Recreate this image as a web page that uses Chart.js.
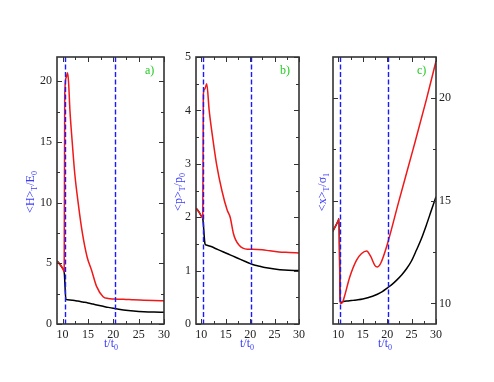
<!DOCTYPE html>
<html>
<head>
<meta charset="utf-8">
<script src="https://cdn.jsdelivr.net/npm/chart.js@4.4.1/dist/chart.umd.min.js"></script>
<style>
  html, body { margin: 0; padding: 0; background: #ffffff; }
  #wrap { position: relative; width: 494px; height: 382px; overflow: hidden; background: #fff; }
  #wrap canvas { position: absolute; left: 0; top: 0; }
  .lbl { position: absolute; font-family: "Liberation Serif", "Times New Roman", serif; font-size: 12px; color: #3b3bff; white-space: nowrap; line-height: 1; }
  .rot { transform: translate(-50%, -50%) rotate(-90deg); }
  .hz { transform: translate(-50%, -50%); }
  .pan { position: absolute; font-family: "Liberation Serif", serif; font-size: 12px; color: #22cc22; line-height: 1; }
  sub { font-size: 8px; vertical-align: -3px; }
</style>
</head>
<body>
<div id="wrap">
  <canvas id="ca" width="494" height="382"></canvas>
  <canvas id="cb" width="494" height="382"></canvas>
  <canvas id="cc" width="494" height="382"></canvas>
  <div class="lbl rot" style="left:31px; top:192px;">&lt;H&gt;<sub>T</sub>/E<sub>0</sub></div>
  <div class="lbl rot" style="left:179px; top:192px;">&lt;p&gt;<sub>T</sub>/p<sub>0</sub></div>
  <div class="lbl rot" style="left:323px; top:192px;">&lt;x&gt;<sub>T</sub>/σ<sub>1</sub></div>
  <div class="lbl hz" style="left:111px; top:344px;">t/t<sub>0</sub></div>
  <div class="lbl hz" style="left:247px; top:344px;">t/t<sub>0</sub></div>
  <div class="lbl hz" style="left:385px; top:344px;">t/t<sub>0</sub></div>
  <div class="pan" style="left:145px; top:64px;">a)</div>
  <div class="pan" style="left:280px; top:64px;">b)</div>
  <div class="pan" style="left:417px; top:64px;">c)</div>
</div>
<script>
// ---- data ----
const markerTimes = [10.4, 20.25];

// panel a: <H>_T / E_0
const tRedA   = [8.9, 9.5, 10.0, 10.32, 10.42, 10.7, 11.0, 11.2, 11.45, 11.9, 12.4, 13.1, 13.9, 14.85, 15.7, 16.7, 18.0, 19.0, 20.0, 22.0, 24.0, 26.0, 28.0, 30.0];
const redA    = [5.2, 4.9, 4.6, 4.3, 18.8, 20.3, 20.7, 19.8, 17.6, 15.0, 12.4, 9.9, 7.5, 5.5, 4.45, 3.1, 2.25, 2.1, 2.06, 2.04, 1.99, 1.95, 1.93, 1.92];
const tBlackA = [8.9, 9.5, 10.0, 10.32, 10.65, 11, 12, 13, 14, 15, 16, 17, 18, 19, 20, 22, 24, 26, 28, 30];
const blackA  = [5.2, 4.9, 4.6, 4.3, 2.03, 2.0, 1.96, 1.89, 1.81, 1.73, 1.64, 1.55, 1.46, 1.37, 1.29, 1.16, 1.07, 1.01, 0.98, 0.97];

// panel b: <p>_T / p_0
const tRedB   = [8.9, 9.5, 10.0, 10.28, 10.4, 10.7, 11.1, 11.6, 12.3, 13.1, 14.2, 15.3, 15.9, 16.55, 17.0, 17.7, 18.5, 19.4, 20.5, 22.5, 24.0, 25.9, 28.0, 30.0];
const redB    = [2.17, 2.1, 2.02, 1.98, 4.3, 4.4, 4.5, 4.0, 3.5, 3.0, 2.5, 2.13, 2.0, 1.7, 1.58, 1.48, 1.42, 1.4, 1.4, 1.39, 1.37, 1.35, 1.34, 1.33];
const tBlackB = [8.9, 9.5, 10.0, 10.28, 10.75, 11, 12, 13, 14, 15, 16, 17, 18, 19, 20, 21, 22, 23, 25, 27, 30];
const blackB  = [2.17, 2.1, 2.02, 1.98, 1.5, 1.48, 1.45, 1.41, 1.37, 1.33, 1.29, 1.25, 1.21, 1.17, 1.13, 1.1, 1.08, 1.06, 1.03, 1.01, 1.0];

// panel c: <x>_T / sigma_1
const tRedC   = [8.8, 9.5, 10.0, 10.12, 10.38, 10.55, 10.85, 11.2, 12.35, 13.7, 14.75, 15.8, 16.6, 17.5, 18.0, 18.7, 20.0, 22.3, 25.3, 28.0, 30.0];
const redC    = [13.5, 13.8, 14.05, 14.12, 10.06, 10.0, 10.05, 10.3, 11.3, 12.1, 12.43, 12.56, 12.3, 11.84, 11.78, 11.97, 12.86, 14.9, 17.5, 19.9, 21.8];
const tBlackC = [8.8, 9.5, 10.0, 10.12, 10.4, 10.6, 11, 12, 13, 14, 15, 16, 17, 18, 19, 20, 21, 22, 23, 24, 25, 26, 27, 28, 29, 30];
const blackC  = [13.5, 13.8, 14.05, 14.12, 10.1, 10.05, 10.1, 10.12, 10.15, 10.18, 10.22, 10.28, 10.35, 10.45, 10.58, 10.75, 10.93, 11.15, 11.4, 11.7, 12.08, 12.6, 13.15, 13.8, 14.5, 15.2];

// tick settings
const xTickStep = 2.5, xMajorStep = 5;

// ---- helpers ----
const pts = (ts, vs) => ts.map((t, i) => ({ x: t, y: vs[i] }));
const isMult = (v, s) => Math.abs(v / s - Math.round(v / s)) < 1e-6;

const framePlugin = {
  id: 'frameTicks',
  afterDatasetsDraw(chart, args, o) {
    const ctx = chart.ctx, a = chart.chartArea;
    const xs = chart.scales.x, ys = chart.scales.y;
    ctx.save();
    // dashed event markers
    ctx.strokeStyle = '#1a1aff';
    ctx.lineWidth = 1.4;
    ctx.setLineDash([5, 2.5]);
    markerTimes.forEach(t => {
      const px = Math.round(xs.getPixelForValue(t)) + 0.5;
      ctx.beginPath(); ctx.moveTo(px, a.top); ctx.lineTo(px, a.bottom); ctx.stroke();
    });
    ctx.setLineDash([]);
    // inward ticks
    ctx.strokeStyle = '#333';
    ctx.lineWidth = 1;
    xs.ticks.forEach(tk => {
      const px = Math.round(xs.getPixelForValue(tk.value)) + 0.5;
      const L = isMult(tk.value, xMajorStep) ? 5 : 3;
      ctx.beginPath();
      ctx.moveTo(px, a.bottom); ctx.lineTo(px, a.bottom - L);
      ctx.moveTo(px, a.top); ctx.lineTo(px, a.top + L);
      ctx.stroke();
    });
    ys.ticks.forEach(tk => {
      const py = Math.round(ys.getPixelForValue(tk.value)) + 0.5;
      const L = isMult(tk.value, o.yMajor) ? 5 : 3;
      ctx.beginPath();
      ctx.moveTo(a.left, py); ctx.lineTo(a.left + L, py);
      ctx.moveTo(a.right, py); ctx.lineTo(a.right - L, py);
      ctx.stroke();
    });
    // frame
    ctx.strokeStyle = '#333';
    ctx.lineWidth = 1.6;
    ctx.strokeRect(a.left, a.top, a.right - a.left, a.bottom - a.top);
    ctx.restore();
  }
};

function makeChart(id, area, red, black, yMin, yMax, yStep, yMajor, yPos) {
  const W = 494, H = 382, AW = 30, AH = 20;
  const pad = {
    left: yPos === 'left' ? area.left - AW : area.left,
    right: yPos === 'right' ? W - area.right - AW : W - area.right,
    top: area.top,
    bottom: H - area.bottom - AH
  };
  return new Chart(document.getElementById(id), {
    type: 'line',
    data: {
      datasets: [
        { data: red, borderColor: '#f01818', borderWidth: 1.5, pointRadius: 0, cubicInterpolationMode: 'monotone', fill: false },
        { data: black, borderColor: '#000000', borderWidth: 1.5, pointRadius: 0, cubicInterpolationMode: 'monotone', fill: false }
      ]
    },
    options: {
      responsive: false,
      devicePixelRatio: 1,
      animation: false,
      events: [],
      layout: { padding: pad },
      plugins: { legend: { display: false }, tooltip: { enabled: false }, frameTicks: { yMajor: yMajor } },
      scales: {
        x: {
          type: 'linear', min: 8.9, max: 30, position: 'bottom',
          afterFit: s => { s.height = AH; },
          grid: { display: false, drawTicks: false },
          border: { display: false },
          ticks: {
            stepSize: xTickStep, includeBounds: false, autoSkip: false, maxRotation: 0,
            padding: 4, color: '#222',
            font: { family: 'Liberation Serif', size: 12 },
            callback: v => isMult(v, xMajorStep) ? String(v) : ''
          }
        },
        y: {
          type: 'linear', min: yMin, max: yMax, position: yPos,
          afterFit: s => { s.width = AW; },
          grid: { display: false, drawTicks: false },
          border: { display: false },
          ticks: {
            stepSize: yStep, includeBounds: false, autoSkip: false,
            padding: yPos === 'right' ? 3 : 5, color: '#222',
            font: { family: 'Liberation Serif', size: 12 },
            callback: v => isMult(v, yMajor) ? String(v) : ''
          }
        }
      }
    },
    plugins: [framePlugin]
  });
}

makeChart('ca', { left: 57, right: 164, top: 57, bottom: 324 }, pts(tRedA, redA), pts(tBlackA, blackA), 0, 22, 2.5, 5, 'left');
makeChart('cb', { left: 196, right: 299, top: 57, bottom: 324 }, pts(tRedB, redB), pts(tBlackB, blackB), 0, 5, 0.5, 1, 'left');
makeChart('cc', { left: 333, right: 436, top: 57, bottom: 324 }, pts(tRedC, redC), pts(tBlackC, blackC), 9, 22, 2.5, 5, 'right');
</script>
</body>
</html>
